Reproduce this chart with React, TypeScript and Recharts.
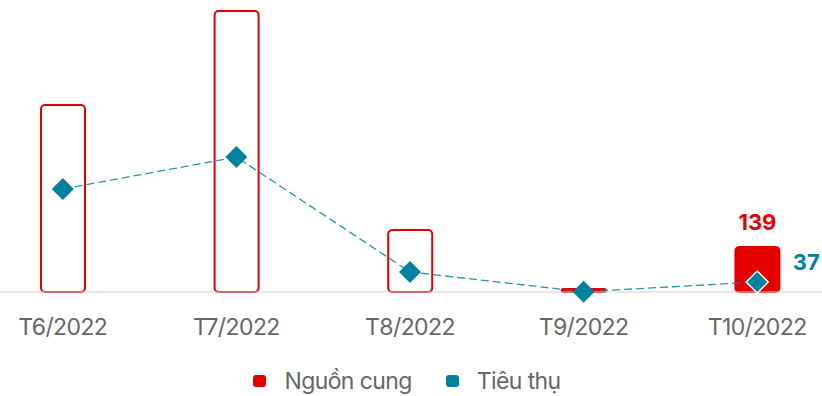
import { Bar, Cell, ComposedChart, LabelList, Line, XAxis, YAxis } from "recharts";

const months = ["T6/2022", "T7/2022", "T8/2022", "T9/2022", "T10/2022"];
const supply = [576, 866, 191, 9, 139];
const consumption = [381, 499, 74, 1, 37];
const supplyName = "Nguồn cung";
const consumptionName = "Tiêu thụ";

const RED = "#e60000";
const TEAL = "#00819e";

const data = months.map((m, i) => ({ month: m, supply: supply[i], consumption: consumption[i] }));
const last = months.length - 1;

function Diamond(props: any) {
  const { cx, cy, index } = props;
  if (cx == null || cy == null) return null;
  const r = 11;
  return (
    <polygon
      key={index}
      points={`${cx},${cy - r} ${cx + r},${cy} ${cx},${cy + r} ${cx - r},${cy}`}
      fill={TEAL}
      stroke={index === last ? "#fff" : "none"}
      strokeWidth={1.5}
    />
  );
}

function BarLabel(props: any) {
  const { x, y, width, index, value } = props;
  if (index !== last) return null;
  return (
    <text x={x + width / 2} y={y - 17} textAnchor="middle" fill={RED} fontSize={22} fontWeight={700} fontFamily="Inter">
      {value}
    </text>
  );
}

function LineLabel(props: any) {
  const { x, y, index, value } = props;
  if (index !== last) return null;
  return (
    <text x={x + 49} y={y - 12} textAnchor="middle" fill={TEAL} fontSize={22} fontWeight={700} fontFamily="Inter">
      {value}
    </text>
  );
}

export default function App() {
  return (
    <div style={{ position: "absolute", left: 0, top: 0, width: 822, height: 396, overflow: "hidden", background: "#fff", fontFamily: "Inter" }}>
      <div style={{ position: "absolute", left: -24, top: 0 }}>
        <ComposedChart width={868} height={396} data={data} margin={{ top: 0, right: 0, left: 0, bottom: 64 }}>
          <XAxis
            dataKey="month"
            axisLine={{ stroke: "#cfcfcf", strokeWidth: 1 }}
            tickLine={false}
            tickMargin={21}
            height={40}
            tick={{ fill: "#666", fontSize: 23, fontFamily: "Inter", letterSpacing: -0.6 }}
            interval={0}
          />
          <YAxis yAxisId="bar" hide domain={[0, 900]} />
          <YAxis yAxisId="line" hide domain={[0, 1080]} />
          <Bar yAxisId="bar" dataKey="supply" name={supplyName} barSize={44} radius={4} stroke={RED} strokeWidth={2} isAnimationActive={false}>
            {data.map((_, i) => (
              <Cell key={i} fill={i === last || i === 3 ? RED : "#fff"} />
            ))}
            <LabelList dataKey="supply" content={BarLabel} />
          </Bar>
          <Line
            yAxisId="line"
            dataKey="consumption"
            name={consumptionName}
            type="linear"
            stroke={TEAL}
            strokeOpacity={0.85}
            strokeWidth={1.3}
            strokeDasharray="8 4"
            dot={Diamond}
            activeDot={false}
            isAnimationActive={false}
          >
            <LabelList dataKey="consumption" content={LineLabel} />
          </Line>
        </ComposedChart>
      </div>
      <div style={{ position: "absolute", top: 367, left: 0, width: 814, display: "flex", justifyContent: "center", gap: 34, fontSize: 23, color: "#666", letterSpacing: -0.6, lineHeight: "28px" }}>
        {[
          { name: supplyName, color: RED },
          { name: consumptionName, color: TEAL },
        ].map((s) => (
          <div key={s.name} style={{ display: "flex", alignItems: "center", gap: 18 }}>
            <span style={{ width: 13, height: 12, borderRadius: 3, background: s.color, display: "inline-block" }} />
            <span>{s.name}</span>
          </div>
        ))}
      </div>
    </div>
  );
}
